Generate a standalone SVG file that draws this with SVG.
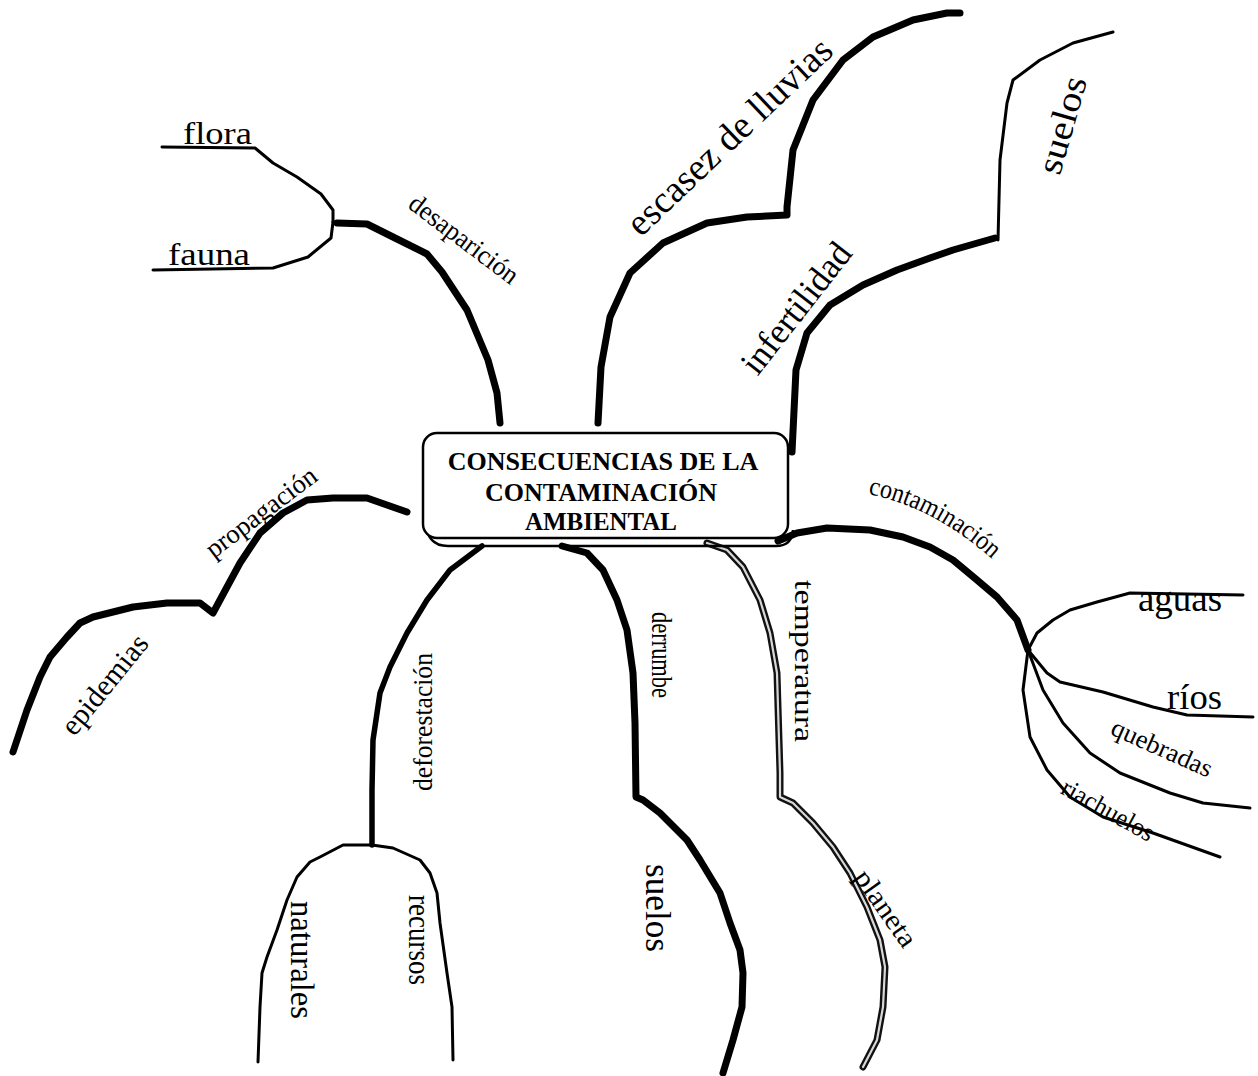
<svg xmlns="http://www.w3.org/2000/svg" width="1258" height="1076" viewBox="0 0 1258 1076">
  <style>
    .thick { fill: none; stroke: #000; stroke-width: 7; stroke-linecap: round; stroke-linejoin: round; }
    .mid { fill: none; stroke: #000; stroke-width: 5.5; stroke-linecap: round; stroke-linejoin: round; }
    .thin { fill: none; stroke: #000; stroke-width: 3; stroke-linecap: round; stroke-linejoin: round; }
    .hollow-out { fill: none; stroke: #111; stroke-width: 7; stroke-linecap: round; stroke-linejoin: round; }
    .hollow-in { fill: none; stroke: #d8d8d8; stroke-width: 2.2; stroke-linecap: round; stroke-linejoin: round; }
    .lbl { font-family: "Liberation Serif", "Times New Roman", serif; fill: #000; }
    .rot { text-anchor: middle; dominant-baseline: central; }
    .title { font-family: "Liberation Serif", "Times New Roman", serif; font-weight: bold; font-size: 26px; text-anchor: middle; fill: #000; }
  </style>
  <defs>
    <path id="contPath" d="M868,494 Q940,508 1006,572"/>
  </defs>
  <rect width="1258" height="1076" fill="#fff"/>

  <g id="connectors">
    <!-- desaparición and its two leaves -->
    <path class="thick" d="M500,423 L497,393 L488,360 L467,310 L442,272 L427,254 L395,238 L367,224 L337,223"/>
    <path class="thin" d="M333,222 L333,210 L321,194 L297,177 L273,163 L255,148 L162,147"/>
    <path class="thin" d="M333,222 L331,238 L308,257 L273,268 L153,270"/>
    <!-- escasez de lluvias -->
    <path class="thick" d="M598,423 L601,367 L610,317 L630,273 L663,243 L707,223 L747,217 L787,215 L787,207 L793,150 L813,100 L843,60 L873,37 L913,20 L947,13 L960,13"/>
    <!-- infertilidad, then suelos -->
    <path class="thick" d="M792,452 L796,370 L807,333 L830,305 L863,285 L897,270 L930,258 L953,250 L995,238"/>
    <path class="thin" d="M998,240 L1000,160 L1007,103 L1013,80 L1040,60 L1073,43 L1113,32"/>
    <!-- propagación / epidemias -->
    <path class="thick" d="M407,512 L367,498 L333,498 L307,500 L283,513 L260,533 L240,563 L227,587 L213,613 L200,603 L167,603 L133,607 L93,617 L80,623 L67,637 L50,657 L40,677 L27,710 L13,752"/>
    <!-- deforestación and its cap -->
    <path class="mid" d="M482,546 L450,570 L427,600 L407,633 L390,667 L380,693 L373,740 L372,790 L372,845"/>
    <path class="thin" d="M372,845 L343,845 L320,857 L310,862 L297,877 L287,900 L277,930 L267,957 L262,973 L260,1007 L258,1062"/>
    <path class="thin" d="M372,845 L393,848 L420,860 L430,873 L437,893 L440,923 L447,973 L452,1007 L453,1060"/>
    <!-- derrumbe / suelos -->
    <path class="thick" d="M562,546 L587,553 L603,570 L617,600 L627,630 L633,673 L635,723 L636,797 L643,800 L660,813 L687,840 L700,860 L720,893 L730,923 L740,950 L743,973 L742,1007 L733,1040 L723,1073"/>
    <!-- temperatura / planeta (double line) -->
    <path class="hollow-out" d="M707,543 L727,550 L743,567 L760,600 L770,633 L777,673 L778,707 L780,773 L780,797 L793,803 L813,823 L833,847 L850,873 L867,907 L880,940 L885,967 L883,1007 L877,1040 L863,1067"/>
    <path class="hollow-in" d="M707,543 L727,550 L743,567 L760,600 L770,633 L777,673 L778,707 L780,773 L780,797 L793,803 L813,823 L833,847 L850,873 L867,907 L880,940 L885,967 L883,1007 L877,1040 L863,1067"/>
    <!-- contaminación and the four water leaves -->
    <path class="thick" d="M778,541 L797,533 L827,528 L870,530 L903,537 L930,547 L953,560 L977,580 L997,597 L1017,620 L1028,650"/>
    <path class="thin" d="M1028,650 L1037,633 L1053,620 L1070,610 L1097,602 L1130,593 L1243,595"/>
    <path class="thin" d="M1028,650 L1047,673 L1060,682 L1103,692 L1153,707 L1187,715 L1253,717"/>
    <path class="thin" d="M1028,650 L1043,690 L1063,723 L1090,753 L1120,773 L1170,793 L1203,803 L1250,808"/>
    <path class="thin" d="M1028,650 L1023,690 L1030,737 L1047,770 L1070,797 L1103,817 L1153,833 L1220,857"/>
  </g>

  <g id="center">
    <path fill="none" stroke="#000" stroke-width="2.5" d="M426,520 Q426,546 448,546 L776,546 Q792,546 793,530"/>
    <rect x="423" y="433" width="365" height="105" rx="14" ry="14" fill="#fff" stroke="#000" stroke-width="2.5"/>
    <text class="title" x="603" y="470">CONSECUENCIAS DE LA</text>
    <text class="title" x="601" y="501">CONTAMINACIÓN</text>
    <text class="title" x="601" y="530" textLength="152" lengthAdjust="spacingAndGlyphs">AMBIENTAL</text>
  </g>

  <g id="n-flora"><text class="lbl" x="183" y="144" font-size="31" textLength="69" lengthAdjust="spacingAndGlyphs">flora</text></g>
  <g id="n-fauna"><text class="lbl" x="168" y="265" font-size="32" textLength="82" lengthAdjust="spacingAndGlyphs">fauna</text></g>
  <g id="n-desaparicion"><text class="lbl rot" transform="translate(464,239) rotate(37)" font-size="27" textLength="130" lengthAdjust="spacingAndGlyphs">desaparición</text></g>
  <g id="n-escasez"><text class="lbl rot" transform="translate(729,136) rotate(-43.5)" font-size="38" textLength="268" lengthAdjust="spacingAndGlyphs">escasez de lluvias</text></g>
  <g id="n-infertilidad"><text class="lbl rot" transform="translate(796,308) rotate(-52)" font-size="36" textLength="156" lengthAdjust="spacingAndGlyphs">infertilidad</text></g>
  <g id="n-suelos-top"><text class="lbl rot" transform="translate(1062,125) rotate(-74)" font-size="36" textLength="100" lengthAdjust="spacingAndGlyphs">suelos</text></g>
  <g id="n-propagacion"><text class="lbl rot" transform="translate(261,512) rotate(-37)" font-size="27" textLength="132" lengthAdjust="spacingAndGlyphs">propagación</text></g>
  <g id="n-epidemias"><text class="lbl rot" transform="translate(104,684) rotate(-51)" font-size="30" textLength="120" lengthAdjust="spacingAndGlyphs">epidemias</text></g>
  <g id="n-deforestacion"><text class="lbl rot" transform="translate(423,722) rotate(-90)" font-size="27" textLength="138" lengthAdjust="spacingAndGlyphs">deforestación</text></g>
  <g id="n-recursos"><text class="lbl rot" transform="translate(419,940) rotate(90)" font-size="31" textLength="90" lengthAdjust="spacingAndGlyphs">recursos</text></g>
  <g id="n-naturales"><text class="lbl rot" transform="translate(302,960) rotate(90)" font-size="34" textLength="118" lengthAdjust="spacingAndGlyphs">naturales</text></g>
  <g id="n-derrumbe"><text class="lbl rot" transform="translate(662,655) rotate(90)" font-size="29" textLength="86" lengthAdjust="spacingAndGlyphs">derrumbe</text></g>
  <g id="n-suelos-bottom"><text class="lbl rot" transform="translate(658,908) rotate(90)" font-size="36" textLength="88" lengthAdjust="spacingAndGlyphs">suelos</text></g>
  <g id="n-temperatura"><text class="lbl rot" transform="translate(804,661) rotate(90)" font-size="28" textLength="162" lengthAdjust="spacingAndGlyphs">temperatura</text></g>
  <g id="n-planeta"><text class="lbl rot" transform="translate(886,908) rotate(55)" font-size="28" textLength="88" lengthAdjust="spacingAndGlyphs">planeta</text></g>
  <g id="n-contaminacion"><text class="lbl" font-size="27"><textPath href="#contPath" textLength="142" lengthAdjust="spacingAndGlyphs">contaminación</textPath></text></g>
  <g id="n-aguas"><text class="lbl" x="1138" y="611" font-size="37" textLength="84" lengthAdjust="spacingAndGlyphs">aguas</text></g>
  <g id="n-rios"><text class="lbl" x="1167" y="709" font-size="36" textLength="55" lengthAdjust="spacingAndGlyphs">ríos</text></g>
  <g id="n-quebradas"><text class="lbl rot" transform="translate(1162,748) rotate(24)" font-size="26" textLength="108" lengthAdjust="spacingAndGlyphs">quebradas</text></g>
  <g id="n-riachuelos"><text class="lbl rot" transform="translate(1108,810) rotate(29)" font-size="26" textLength="102" lengthAdjust="spacingAndGlyphs">riachuelos</text></g>
</svg>
